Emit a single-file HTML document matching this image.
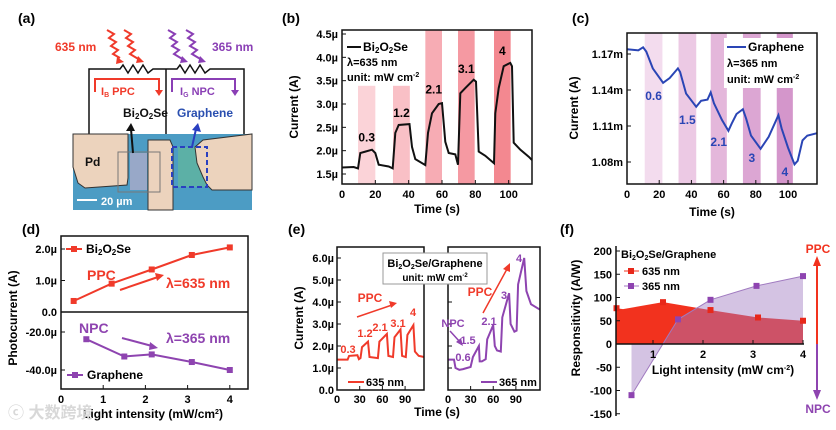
<!DOCTYPE html>
<html><head><meta charset="utf-8"><style>
html,body{margin:0;padding:0;background:#fff;}
svg{display:block;font-family:"Liberation Sans",Arial,sans-serif;font-weight:bold;}
</style></head><body>
<svg id="fig" width="836" height="430" viewBox="0 0 836 430" xmlns="http://www.w3.org/2000/svg">
<rect width="836" height="430" fill="#fff"/>
<g id="pa">
<text x="18" y="23" font-size="14">(a)</text>
<text x="55" y="51" font-size="12" fill="#f03a2a">635 nm</text>
<text x="212" y="51" font-size="12" fill="#8a3fb5">365 nm</text>
<g fill="none" stroke-width="2">
<polyline points="107,30 114,34 109,38 116,42 111,46 118,50 113,54 120,58" stroke="#f03a2a"/>
<polyline points="124,30 131,34 126,38 133,42 128,46 135,50 130,54 140,60" stroke="#f03a2a"/>
<polyline points="168,30 175,34 170,38 177,42 172,46 179,50 174,54 184,60" stroke="#8a3fb5"/>
<polyline points="186,30 193,34 188,38 195,42 190,46 197,50 192,54 202,60" stroke="#8a3fb5"/>
</g>
<polygon points="117,57 124,62 116,64" fill="#f03a2a"/><polygon points="138,56 144,62 136,63" fill="#f03a2a"/>
<polygon points="182,56 188,62 180,63" fill="#8a3fb5"/><polygon points="200,56 206,62 198,63" fill="#8a3fb5"/>
<g stroke="#111" stroke-width="1.5" fill="none">
<polyline points="89,138 89,69 120,69 123,65 128,73 133,65 138,73 143,65 148,73 153,69 177,69 180,65 185,73 190,65 195,73 200,65 205,73 210,69 244,69 244,138"/>
<line x1="166" y1="69" x2="166" y2="138"/>
</g>
<polyline points="95,92 95,79 159,79 159,92" fill="none" stroke="#f03a2a" stroke-width="2"/>
<polygon points="155,90 163,90 159,96" fill="#f03a2a"/>
<polyline points="172,92 172,79 235,79 235,92" fill="none" stroke="#8a3fb5" stroke-width="2"/>
<polygon points="231,90 239,90 235,96" fill="#8a3fb5"/>
<text x="101" y="95" font-size="11" fill="#f03a2a">I<tspan font-size="7" dy="2">B</tspan><tspan dy="-2"> PPC</tspan></text>
<text x="180" y="95" font-size="11" fill="#8a3fb5">I<tspan font-size="7" dy="2">G</tspan><tspan dy="-2">  NPC</tspan></text>
<text x="123" y="117" font-size="12" fill="#111">Bi<tspan font-size="8" dy="2">2</tspan><tspan dy="-2">O</tspan><tspan font-size="8" dy="2">2</tspan><tspan dy="-2">Se</tspan></text>
<text x="177" y="117" font-size="12" fill="#2a4fb0">Graphene</text>
<g>
<rect x="73" y="134" width="179" height="76" fill="#4c9cc4"/>
<rect x="178" y="147" width="29" height="40" fill="#5cb0a6"/>
<polygon points="73,134 128,134 128,178 127,185 85,188 78,183 73,167" fill="#ecd3bd" stroke="#333" stroke-width="1"/>
<polygon points="148,140 170,140 173,147 173,210 148,210" fill="#ecd3bd" stroke="#333" stroke-width="1"/>
<polygon points="195,147 203,140 252,134 252,190 212,190 207,185 203,177 197,163" fill="#ecd3bd" stroke="#333" stroke-width="1"/>
<rect x="130" y="153" width="17" height="37" fill="#98a8c8"/>
<rect x="118" y="152" width="42" height="40" fill="none" stroke="#777" stroke-width="1"/>
<rect x="172" y="147" width="35" height="40" fill="none" stroke="#2a3fc0" stroke-width="2" stroke-dasharray="5,3"/>
<line x1="133" y1="153" x2="131" y2="129" stroke="#111" stroke-width="2"/><polygon points="126,131 131,123 135,131" fill="#111"/>
<line x1="192" y1="147" x2="196" y2="129" stroke="#2a3fc0" stroke-width="2"/><polygon points="192,130 198,123 201,132" fill="#2a3fc0"/>
<text x="85" y="166" font-size="12" fill="#111">Pd</text>
<line x1="77" y1="200" x2="97" y2="200" stroke="#fff" stroke-width="2"/>
<text x="101" y="205" font-size="11" fill="#fff">20 µm</text>
</g>
</g>
<g id="pb"></g>
<g id="pc"></g>
<g id="pd"></g>
<g id="pe"></g>
<g id="pf"></g>
<text x="8" y="418" font-size="16" fill="#d8d8d8" font-family="'Liberation Sans','Noto Sans CJK SC',sans-serif">ⓒ 大数跨境</text>
</svg>
<script>
// ---- Panel b data ----
const bTime=[0,7,9.6,11,14,18,20,22,28,30.4,32,34,40.5,42,44,50,51.6,54,58,60,62,64,68,69.6,71,74,79,80.4,82,86,91.2,92,94,97,101,102,103,107,112,114];
const bCurrent=[1.64,1.65,1.62,1.95,1.98,2.02,1.95,1.7,1.66,1.62,2.38,2.55,2.57,2.08,1.82,1.69,2.38,2.8,3.0,3.02,2.19,1.95,1.92,1.7,3.23,3.34,3.52,3.48,1.98,1.89,1.73,2.8,3.34,3.81,3.88,3.81,2.17,2.02,1.87,1.8];
const bBands=[[9.6,20],[30.6,40.7],[50,60],[69.6,79.6],[91.2,101.2]];
const bBandTop=[3.39,3.39,4.6,4.6,4.6];
const bBandLabels=["0.3","1.2","2.1","3.1","4"];
const bBandLabelV=[2.2,2.72,3.22,3.66,4.05];
const bYTicks=[1.5,2.0,2.5,3.0,3.5,4.0,4.5];
const bXTicks=[0,20,40,60,80,100];
// ---- Panel c data ----
const cTime=[0,7,10,12,16,22.4,26.5,31.6,33,36.7,43,46,50,52,54,59,63,65,68,72,74,77,83,88,94,96,100,104,106,109,112,118];
const cCurrent=[1.174,1.173,1.1756,1.172,1.158,1.146,1.150,1.158,1.155,1.137,1.126,1.131,1.132,1.138,1.129,1.115,1.106,1.112,1.120,1.124,1.116,1.102,1.091,1.101,1.119,1.108,1.092,1.078,1.081,1.098,1.102,1.104];
const cBands=[[11,22],[32,43],[52,62],[72,83],[93,103]];
const cBandLabels=["0.6","1.5","2.1","3","4"];
const cBandLabelV=[1.135,1.115,1.0967,1.0833,1.0717];
const cYTicks=[1.08,1.11,1.14,1.17];
const cYTickLabels=["1.08m","1.11m","1.14m","1.17m"];
const cXTicks=[0,20,40,60,80,100];
// ---- Panel d data ----
const dIntensityB=[0.3,1.2,2.15,3.1,4];
const dPhotoB=[0.35,0.9,1.35,1.81,2.05];
const dIntensityG=[0.6,1.5,2.15,3.1,4];
const dPhotoG=[-23.8,-32.9,-31.8,-35.8,-40];
const dXTicks=[0,1,2,3,4];
const dYTicksTop=[0,1,2];
const dYTickLabelsTop=["0.0","1.0µ","2.0µ"];
const dYTicksBot=[-20,-40];
const dYTickLabelsBot=["-20.0µ","-40.0µ"];
// ---- Panel e data ----
const eTime635=[0,14,16,27,29,31,33,41,43,54,56,66,68,74,76,84,86,91,93,101,103,108,115];
const eCur635=[1.38,1.38,1.55,1.58,1.4,1.45,1.95,2.2,1.5,1.45,2.2,2.55,1.55,1.5,2.4,2.75,1.55,1.5,2.5,2.95,1.75,1.55,1.5];
const eTime365=[0,8,10,15,20,25,30,33,41,42,45,50,52,60,62,65,70,72,81,83,88,91,93,101,104,110,122];
const eCur365=[1.38,1.38,1.0,0.92,0.95,1.0,1.05,1.5,2.0,1.3,1.3,1.4,2.3,2.95,2.0,1.8,1.75,3.3,4.4,3.0,2.65,2.7,4.8,6.0,4.5,3.9,3.65];
const eYTicks=[0,1,2,3,4,5,6];
const eYTickLabels=["0.0","1.0µ","2.0µ","3.0µ","4.0µ","5.0µ","6.0µ"];
const eXTicks=[0,30,60,90];
// ---- Panel f data ----
const fInt635=[0.27,0.4,1.2,2.15,3.1,4];
const fResp635=[77,75,90,73,57,50];
const fInt365=[0.57,1.5,2.15,3.07,4];
const fResp365=[-110,53,95,125,146];
const fYTicks=[-150,-100,-50,0,50,100,150,200];
const fXTicks=[1,2,3,4];

const NS="http://www.w3.org/2000/svg";
function sc(d0,d1,r0,r1){return v=>r0+(v-d0)/(d1-d0)*(r1-r0);}
function mk(parent,tag,attrs,text){const e=document.createElementNS(NS,tag);for(const k in attrs)e.setAttribute(k,attrs[k]);if(text!==undefined)e.textContent=text;parent.appendChild(e);return e;}
function pts(xs,ys,fx,fy){return xs.map((x,i)=>fx(x).toFixed(1)+","+fy(ys[i]).toFixed(1)).join(" ");}
const RED="#f03a2a",PUR="#8e44b0",BLUE="#2a45b5";

(function(){
const g=document.getElementById('pb');
const X=sc(0,114,342,532),Y=sc(1.5,4.5,174,34);
let t=mk(g,'text',{x:282,y:23,'font-size':14},'(b)');


const cols=["#fbd3d8","#f9c0c6","#f7acb4","#f599a2","#f38890"];
bBands.forEach((b,i)=>{
 const r=mk(g,'rect',{x:X(b[0]),y:Math.max(30,Y(bBandTop[i])),width:X(b[1])-X(b[0]),height:184-Math.max(30,Y(bBandTop[i])),fill:cols[i]});
 
 
 const l=mk(g,'text',{x:(X(b[0])+X(b[1]))/2,y:Y(bBandLabelV[i]),'font-size':12,'text-anchor':'middle'},bBandLabels[i]);
 
 
});
const p=mk(g,'polyline',{points:pts(bTime,bCurrent,X,Y),fill:'none',stroke:'#111','stroke-width':2});


const box=mk(g,'rect',{x:342,y:30,width:190,height:154,fill:'none',stroke:'#111','stroke-width':1.5});


bYTicks.forEach(v=>{mk(g,'line',{x1:342,x2:346,y1:Y(v),y2:Y(v),stroke:'#111'});
 const l=mk(g,'text',{x:338,y:Y(v)+4,'font-size':11,'text-anchor':'end'},v.toFixed(1)+'µ');
 
 });
bXTicks.forEach(v=>{mk(g,'line',{x1:X(v),x2:X(v),y1:184,y2:180,stroke:'#111'});
 const l=mk(g,'text',{x:X(v),y:198,'font-size':11,'text-anchor':'middle'},String(v));
 
 });
let xt=mk(g,'text',{x:437,y:213,'font-size':12,'text-anchor':'middle'},'Time (s)');


let yt=mk(g,'text',{x:0,y:0,'font-size':12,'text-anchor':'middle',transform:'translate(298,107) rotate(-90)'},'Current (A)');


mk(g,'line',{x1:347,x2:361,y1:47,y2:47,stroke:'#111','stroke-width':2});
let lg=mk(g,'text',{x:363,y:51,'font-size':12});
lg.innerHTML='Bi<tspan font-size="8" dy="2">2</tspan><tspan dy="-2">O</tspan><tspan font-size="8" dy="2">2</tspan><tspan dy="-2">Se</tspan>';


let l2=mk(g,'text',{x:347,y:66,'font-size':11},'λ=635 nm');


let l3=mk(g,'text',{x:347,y:81,'font-size':11});
l3.innerHTML='unit: mW cm<tspan font-size="7" dy="-4">-2</tspan>';


})();

(function(){
const g=document.getElementById('pc');
const X=sc(0,118,627,817),Y=sc(1.08,1.17,162,54);
let t=mk(g,'text',{x:572,y:23,'font-size':14},'(c)');


const cols=["#f3dcee","#ecc9e4","#e4b7db","#dca6d3","#d496cb"];
cBands.forEach((b,i)=>{
 const r=mk(g,'rect',{x:X(b[0]),y:33,width:X(b[1])-X(b[0]),height:151,fill:cols[i]});
 
 
});
const lb=mk(g,'rect',{x:724,y:38,width:93,height:50,fill:'#fff'});


const p=mk(g,'polyline',{points:pts(cTime,cCurrent,X,Y),fill:'none',stroke:BLUE,'stroke-width':2});


cBands.forEach((b,i)=>{
 const l=mk(g,'text',{x:(X(b[0])+X(b[1]))/2,y:Y(cBandLabelV[i])+4,'font-size':12,'text-anchor':'middle',fill:BLUE},cBandLabels[i]);
 
 
});
const box=mk(g,'rect',{x:627,y:33,width:190,height:151,fill:'none',stroke:'#111','stroke-width':1.5});


cYTicks.forEach((v,i)=>{mk(g,'line',{x1:627,x2:631,y1:Y(v),y2:Y(v),stroke:'#111'});
 const l=mk(g,'text',{x:623,y:Y(v)+4,'font-size':11,'text-anchor':'end'},cYTickLabels[i]);
 
 });
cXTicks.forEach(v=>{mk(g,'line',{x1:X(v),x2:X(v),y1:184,y2:180,stroke:'#111'});
 const l=mk(g,'text',{x:X(v),y:198,'font-size':11,'text-anchor':'middle'},String(v));
 
 });
let xt=mk(g,'text',{x:712,y:216,'font-size':12,'text-anchor':'middle'},'Time (s)');


let yt=mk(g,'text',{x:0,y:0,'font-size':12,'text-anchor':'middle',transform:'translate(578,108) rotate(-90)'},'Current (A)');


mk(g,'line',{x1:727,x2:746,y1:47,y2:47,stroke:BLUE,'stroke-width':2});
let lg=mk(g,'text',{x:748,y:51,'font-size':12},'Graphene');


let l2=mk(g,'text',{x:727,y:67,'font-size':11},'λ=365 nm');


let l3=mk(g,'text',{x:727,y:83,'font-size':11});
l3.innerHTML='unit: mW cm<tspan font-size="7" dy="-4">-2</tspan>';


})();

(function(){
const g=document.getElementById('pd');
const X=sc(0,4,61,229.8),YT=sc(0,2,312,249),YB=sc(-20,-40,332,370);
let t=mk(g,'text',{x:22,y:234,'font-size':14},'(d)');


const box=mk(g,'rect',{x:61,y:236,width:187,height:153,fill:'none',stroke:'#111','stroke-width':1.5});


mk(g,'line',{x1:61,x2:248,y1:312,y2:312,stroke:'#111','stroke-width':1.5});
dYTicksTop.forEach((v,i)=>{mk(g,'line',{x1:61,x2:65,y1:YT(v),y2:YT(v),stroke:'#111'});
 const l=mk(g,'text',{x:57,y:YT(v)+4,'font-size':11,'text-anchor':'end'},dYTickLabelsTop[i]);
 
 });
dYTicksBot.forEach((v,i)=>{mk(g,'line',{x1:61,x2:65,y1:YB(v),y2:YB(v),stroke:'#111'});
 const l=mk(g,'text',{x:57,y:YB(v)+4,'font-size':11,'text-anchor':'end'},dYTickLabelsBot[i]);
 
 });
dXTicks.forEach(v=>{mk(g,'line',{x1:X(v),x2:X(v),y1:389,y2:385,stroke:'#111'});
 const l=mk(g,'text',{x:X(v),y:403,'font-size':11,'text-anchor':'middle'},String(v));
 
 });
const pb=mk(g,'polyline',{points:pts(dIntensityB,dPhotoB,X,YT),fill:'none',stroke:RED,'stroke-width':2});


dIntensityB.forEach((v,i)=>{const m=mk(g,'rect',{x:X(v)-3,y:YT(dPhotoB[i])-3,width:6,height:6,fill:RED});
 
 });
const pg=mk(g,'polyline',{points:pts(dIntensityG,dPhotoG,X,YB),fill:'none',stroke:PUR,'stroke-width':2});


dIntensityG.forEach((v,i)=>{const m=mk(g,'rect',{x:X(v)-3,y:YB(dPhotoG[i])-3,width:6,height:6,fill:PUR});
 
 });
mk(g,'line',{x1:66,x2:82,y1:249,y2:249,stroke:RED,'stroke-width':2});mk(g,'rect',{x:71,y:246,width:6,height:6,fill:RED});
let l1=mk(g,'text',{x:86,y:253,'font-size':12});
l1.innerHTML='Bi<tspan font-size="8" dy="2">2</tspan><tspan dy="-2">O</tspan><tspan font-size="8" dy="2">2</tspan><tspan dy="-2">Se</tspan>';


mk(g,'line',{x1:67,x2:83,y1:375,y2:375,stroke:PUR,'stroke-width':2});mk(g,'rect',{x:72,y:372,width:6,height:6,fill:PUR});
let l2=mk(g,'text',{x:87,y:379,'font-size':12},'Graphene');


let a1=mk(g,'text',{x:87,y:280,'font-size':14,fill:RED},'PPC');
mk(g,'line',{x1:120,y1:290,x2:158,y2:277,stroke:RED,'stroke-width':2});mk(g,'polygon',{points:'164,275 155,273 157,281',fill:RED});
let a2=mk(g,'text',{x:166,y:288,'font-size':14,fill:RED},'λ=635 nm');
let a3=mk(g,'text',{x:79,y:333,'font-size':14,fill:PUR},'NPC');
mk(g,'line',{x1:122,y1:338,x2:152,y2:346,stroke:PUR,'stroke-width':2});mk(g,'polygon',{points:'158,348 150,342 149,350',fill:PUR});
let a4=mk(g,'text',{x:166,y:343,'font-size':14,fill:PUR},'λ=365 nm');
let yt=mk(g,'text',{x:0,y:0,'font-size':12,'text-anchor':'middle',transform:'translate(17,318) rotate(-90)'},'Photocurrent (A)');


let xt=mk(g,'text',{x:153,y:418,'font-size':12,'text-anchor':'middle'});
xt.innerHTML='Light intensity (mW/cm<tspan font-size="7" dy="-4">2</tspan><tspan dy="4">)</tspan>';


})();

(function(){
const g=document.getElementById('pe');
const XL=sc(0,115,337,424),XR=sc(0,122,448,540),Y=sc(0,6,390,258);
let t=mk(g,'text',{x:288,y:234,'font-size':14},'(e)');


const pl=mk(g,'polyline',{points:pts(eTime635,eCur635,XL,Y),fill:'none',stroke:RED,'stroke-width':2});


const pr=mk(g,'polyline',{points:pts(eTime365,eCur365,XR,Y),fill:'none',stroke:PUR,'stroke-width':2});


[[337,424],[448,540]].forEach(b=>{const r=mk(g,'rect',{x:b[0],y:247,width:b[1]-b[0],height:143,fill:'none',stroke:'#111','stroke-width':1.5});
 
 });
eYTicks.forEach((v,i)=>{mk(g,'line',{x1:337,x2:341,y1:Y(v),y2:Y(v),stroke:'#111'});mk(g,'line',{x1:448,x2:452,y1:Y(v),y2:Y(v),stroke:'#111'});
 const l=mk(g,'text',{x:334,y:Y(v)+4,'font-size':11,'text-anchor':'end'},eYTickLabels[i]);
 
 });
eXTicks.forEach(v=>{[XL,XR].forEach(F=>{mk(g,'line',{x1:F(v),x2:F(v),y1:390,y2:386,stroke:'#111'});
 const l=mk(g,'text',{x:F(v),y:403,'font-size':11,'text-anchor':'middle'},String(v));
 
 });});
const ib=mk(g,'rect',{x:383,y:253,width:104,height:31,fill:'#fff',stroke:'#999','stroke-width':1});


let i1=mk(g,'text',{x:435,y:267,'font-size':11,'text-anchor':'middle'});
i1.innerHTML='Bi<tspan font-size="7" dy="2">2</tspan><tspan dy="-2">O</tspan><tspan font-size="7" dy="2">2</tspan><tspan dy="-2">Se/Graphene</tspan>';


let i2=mk(g,'text',{x:435,y:281,'font-size':10,'text-anchor':'middle'});
i2.innerHTML='unit: mW cm<tspan font-size="6" dy="-4">-2</tspan>';


const labs=[["0.3",348,353,RED],["1.2",365,337,RED],["2.1",380,331,RED],["3.1",398,327,RED],["4",413,316,RED],
 ["NPC",453,327,PUR],["0.6",463,361,PUR],["1.5",468,344,PUR],["2.1",489,325,PUR],["3",504,299,PUR],["4",519,262,PUR]];
labs.forEach(a=>{const l=mk(g,'text',{x:a[1],y:a[2],'font-size':11,'text-anchor':'middle',fill:a[3]},a[0]);
 
 });
let p1=mk(g,'text',{x:370,y:302,'font-size':12,'text-anchor':'middle',fill:RED},'PPC');
mk(g,'line',{x1:357,y1:317,x2:392,y2:305,stroke:RED,'stroke-width':1.5});mk(g,'polygon',{points:'397,303 389,301 391,308',fill:RED});
let p2=mk(g,'text',{x:480,y:296,'font-size':12,'text-anchor':'middle',fill:RED},'PPC');
mk(g,'line',{x1:483,y1:313,x2:507,y2:269,stroke:RED,'stroke-width':1.5});mk(g,'polygon',{points:'510,263 503,269 510,272',fill:RED});
mk(g,'line',{x1:450,y1:331,x2:460,y2:342,stroke:PUR,'stroke-width':1.5});mk(g,'polygon',{points:'463,346 456,342 461,338',fill:PUR});
mk(g,'line',{x1:348,x2:364,y1:382,y2:382,stroke:RED,'stroke-width':2});
let l1=mk(g,'text',{x:366,y:386,'font-size':11},'635 nm');
mk(g,'line',{x1:481,x2:497,y1:382,y2:382,stroke:PUR,'stroke-width':2});
let l2=mk(g,'text',{x:499,y:386,'font-size':11},'365 nm');
let yt=mk(g,'text',{x:0,y:0,'font-size':12,'text-anchor':'middle',transform:'translate(303,318) rotate(-90)'},'Current (A)');


let xt=mk(g,'text',{x:437,y:416,'font-size':12,'text-anchor':'middle'},'Time (s)');


})();

(function(){
const g=document.getElementById('pf');
const X=sc(1,4,653,803),Y=sc(0,200,344,251);
let t=mk(g,'text',{x:560,y:234,'font-size':14},'(f)');


const redPoly=fInt635.map((x,i)=>X(x).toFixed(1)+","+Y(fResp635[i]).toFixed(1)).join(" ");
const ra=mk(g,'polygon',{points:X(fInt635[0])+","+Y(0)+" "+redPoly+" "+X(fInt635[fInt635.length-1])+","+Y(0),fill:'#f2321e'});


const purPoly=fInt365.map((x,i)=>X(x).toFixed(1)+","+Y(fResp365[i]).toFixed(1)).join(" ");
const pa=mk(g,'polygon',{points:X(fInt365[0])+","+Y(0)+" "+purPoly+" "+X(fInt365[fInt365.length-1])+","+Y(0),fill:'#a07ac0','fill-opacity':0.45});


mk(g,'polyline',{points:purPoly,fill:'none',stroke:'#a07ac0','stroke-width':1});
fInt635.forEach((x,i)=>{if(i===1)return;const m=mk(g,'rect',{x:X(x)-3,y:Y(fResp635[i])-3,width:6,height:6,fill:'#e8281a'});
 
 });
fInt365.forEach((x,i)=>{const m=mk(g,'rect',{x:X(x)-3,y:Y(fResp365[i])-3,width:6,height:6,fill:'#8e44b0'});
 
 });
mk(g,'line',{x1:616,x2:616,y1:246,y2:416,stroke:'#111','stroke-width':1.5});
mk(g,'line',{x1:616,x2:804,y1:Y(0),y2:Y(0),stroke:'#111','stroke-width':1.5});
fYTicks.forEach(v=>{mk(g,'line',{x1:616,x2:620,y1:Y(v),y2:Y(v),stroke:'#111'});
 const l=mk(g,'text',{x:612,y:Y(v)+4,'font-size':11,'text-anchor':'end'},String(v));
 
 });
fXTicks.forEach(v=>{mk(g,'line',{x1:X(v),x2:X(v),y1:Y(0),y2:Y(0)-4,stroke:'#111'});
 const l=mk(g,'text',{x:X(v),y:Y(0)+14,'font-size':11,'text-anchor':'middle'},String(v));
 
 });
let xt=mk(g,'text',{x:723,y:374,'font-size':12,'text-anchor':'middle'});
xt.innerHTML='Light intensity (mW cm<tspan font-size="7" dy="-4">-2</tspan><tspan dy="4">)</tspan>';


let yt=mk(g,'text',{x:0,y:0,'font-size':12,'text-anchor':'middle',transform:'translate(580,318) rotate(-90)'},'Responsitivity (A/W)');


let lt=mk(g,'text',{x:621,y:258,'font-size':11});
lt.innerHTML='Bi<tspan font-size="7" dy="2">2</tspan><tspan dy="-2">O</tspan><tspan font-size="7" dy="2">2</tspan><tspan dy="-2">Se/Graphene</tspan>';


mk(g,'line',{x1:624,x2:639,y1:271,y2:271,stroke:'#f2321e','stroke-width':1});mk(g,'rect',{x:628,y:268,width:6,height:6,fill:'#e8281a'});
let l1=mk(g,'text',{x:642,y:275,'font-size':11},'635 nm');
mk(g,'line',{x1:624,x2:639,y1:286,y2:286,stroke:'#a07ac0','stroke-width':1});mk(g,'rect',{x:628,y:283,width:6,height:6,fill:'#8e44b0'});
let l2=mk(g,'text',{x:642,y:290,'font-size':11},'365 nm');
mk(g,'line',{x1:817,x2:817,y1:Y(0),y2:264,stroke:'#f2321e','stroke-width':2});mk(g,'polygon',{points:'813,266 817,256 821,266',fill:'#f2321e'});
mk(g,'line',{x1:817,x2:817,y1:Y(0),y2:392,stroke:PUR,'stroke-width':2});mk(g,'polygon',{points:'813,390 817,400 821,390',fill:PUR});
let pp=mk(g,'text',{x:818,y:253,'font-size':12,'text-anchor':'middle',fill:'#f2321e'},'PPC');
let np=mk(g,'text',{x:818,y:413,'font-size':12,'text-anchor':'middle',fill:PUR},'NPC');
})();
</script>
</body></html>
